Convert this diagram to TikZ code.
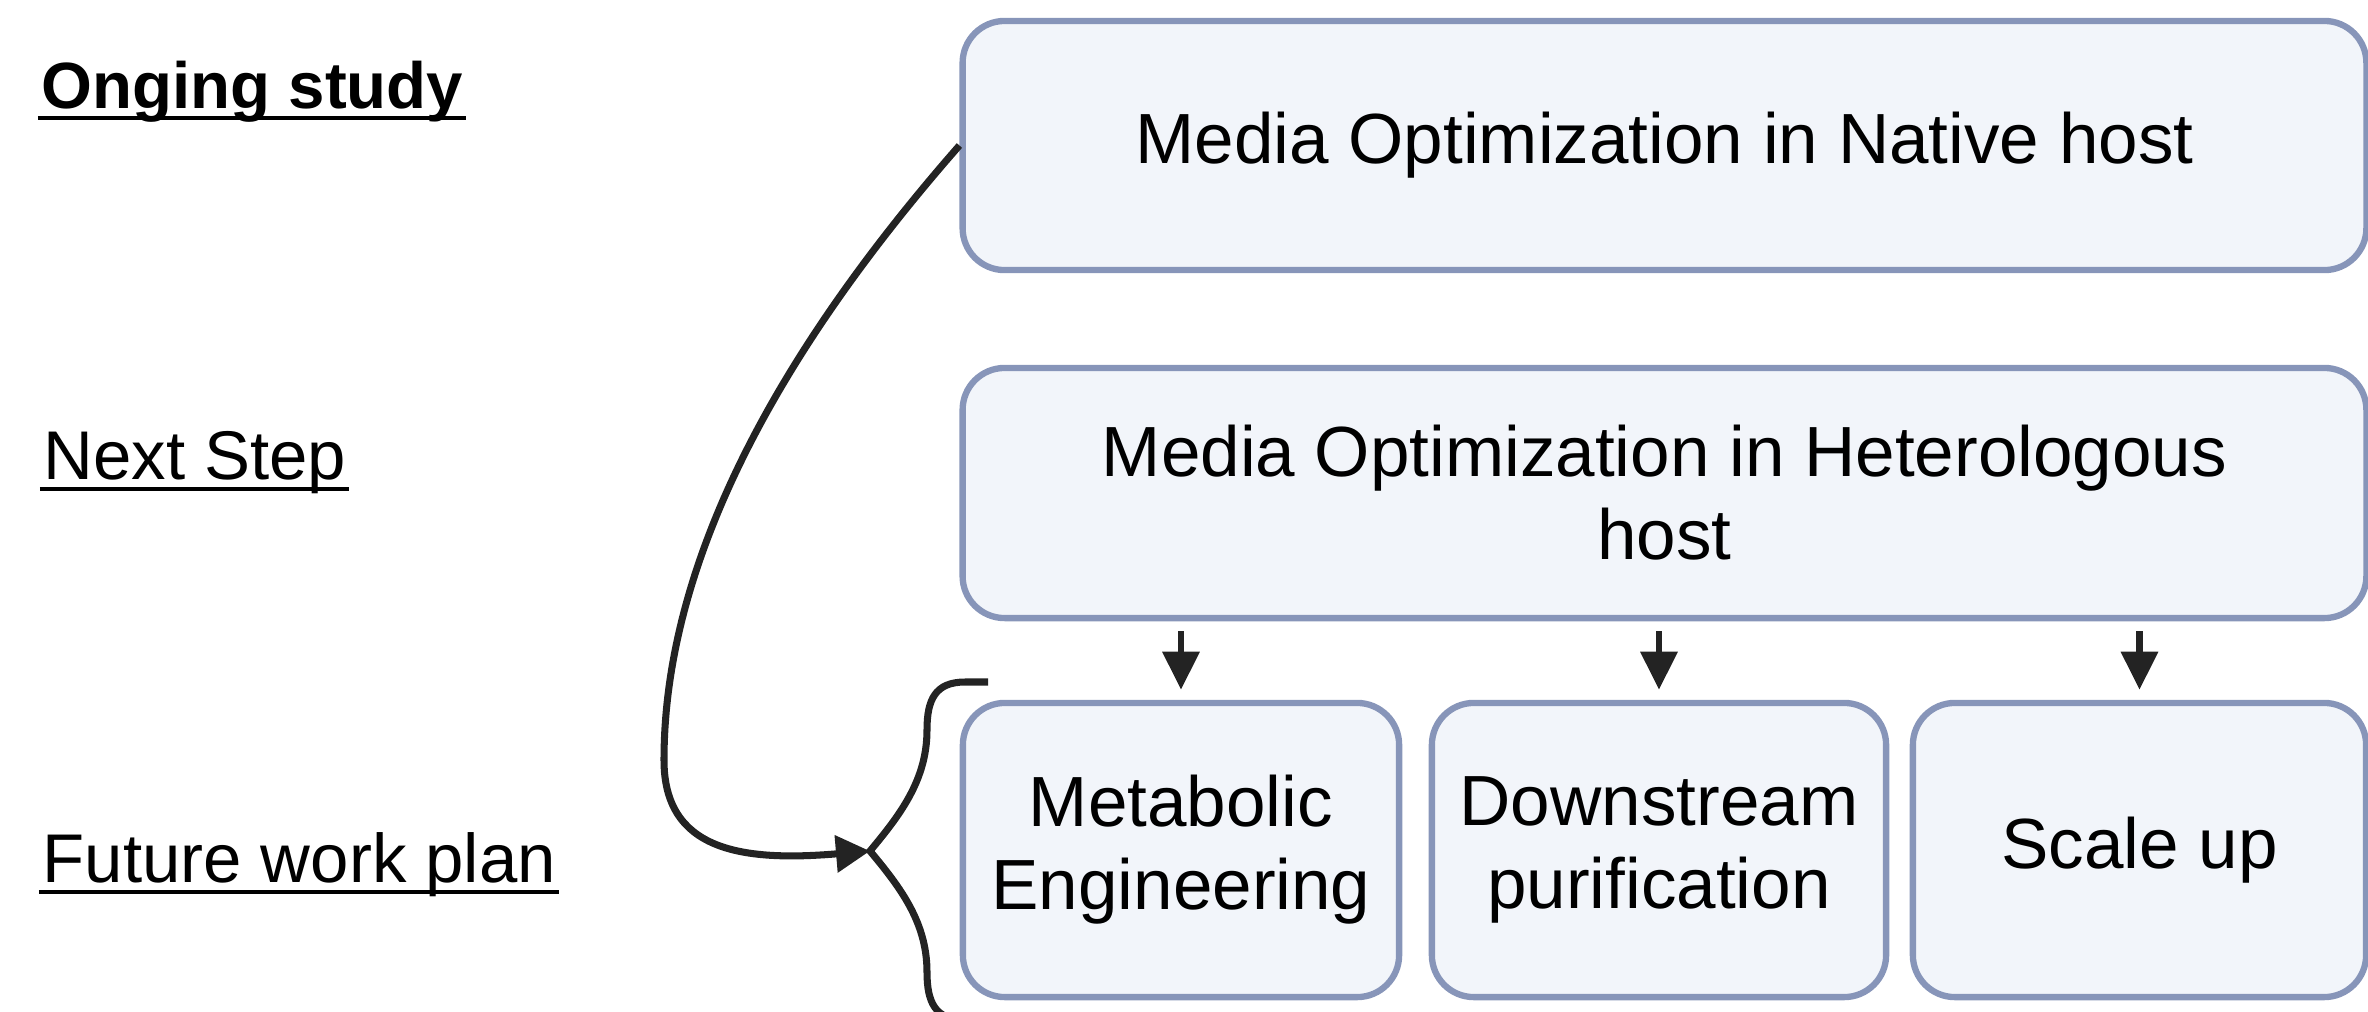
\documentclass[tikz,border=0pt]{standalone}
\usepackage{fontspec}
\setmainfont{Liberation Sans}
\usepackage{xcolor}
\usetikzlibrary{arrows.meta, positioning, calc}
\definecolor{boxline}{HTML}{8795B9}
\definecolor{boxfill}{HTML}{F2F5FA}
\definecolor{inkblack}{HTML}{232323}

\begin{document}
\begin{tikzpicture}[x=0.01cm, y=-0.01cm,
    stage/.style={draw=boxline, fill=boxfill, line width=1.8pt, rounded corners=0.42cm,
      align=center, inner sep=0pt, font=\fontsize{20.2}{23.6}\selectfont},
    rowlabel/.style={anchor=base west, inner sep=0pt, font=\fontsize{19.6}{23.6}\selectfont},
    flow/.style={draw=inkblack, line width=1.8pt, -{Triangle[length=0.38cm, width=0.36cm]},
      shorten <=0.1cm, shorten >=0.1cm},
    sweep/.style={draw=inkblack, line width=2pt},
    uline/.style={black, line width=1.1pt}]
  \useasboundingbox (0,0) rectangle (2368,1011);

  % Zeilen links
  \node[rowlabel, font=\fontsize{18.6}{23.6}\selectfont\bfseries] (onging) at (41,108) {Onging study};
  \node[rowlabel] (nextstep) at (43,479) {Next Step};
  \node[rowlabel] (future) at (42,882) {Future work plan};
  \foreach \l in {onging, nextstep, future}
    \draw[uline] ([xshift=-0.03cm, yshift=-0.1cm]\l.base west) -- ([xshift=0.02cm, yshift=-0.1cm]\l.base east);

  % Kaesten
  \node[stage, minimum width=14.03cm, minimum height=2.49cm] (native) at (1664.5,145.5)
    {Media Optimization in Native host};
  \node[stage, minimum width=14.03cm, minimum height=2.50cm] (hetero) at (1664.5,493)
    {Media Optimization in Heterologous\\host};
  \node[stage, minimum width=4.36cm, minimum height=2.94cm] (metab) at (1181,850)
    {Metabolic\\Engineering};
  \node[stage, minimum width=4.54cm, minimum height=2.94cm] (down) at (1659,850)
    {Downstream\\purification};
  \node[stage, minimum width=4.53cm, minimum height=2.94cm] (scale) at (2139.5,850)
    {Scale up};

  \foreach \b in {metab, down, scale}
    \draw[flow] (hetero.south -| \b.north) -- (\b.north);

  % Klammer und Bogen
  \coordinate (tip) at (870,851);
  \draw[sweep] (988,682) -- (965,682) .. controls (935,682) and (927,700) .. (927,730)
    .. controls (927,780) and (900,815) .. (tip)
    .. controls (900,887) and (927,922) .. (927,972)
    .. controls (927,1002) and (935,1020) .. (965,1020) -- (988,1020);
  \draw[sweep, -{Triangle[length=0.34cm, width=0.36cm]}] (native.west)
    .. controls (780,350) and (664,560) .. (664,760)
    .. controls (664,850) and (740,862) .. (tip);
\end{tikzpicture}
\end{document}
